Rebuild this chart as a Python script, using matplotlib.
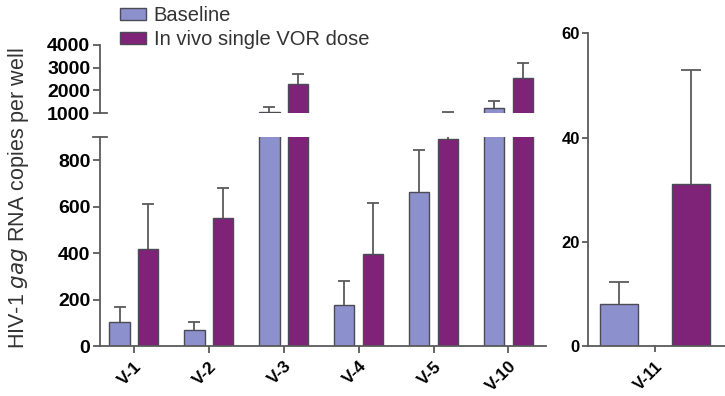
import numpy as np
import matplotlib
matplotlib.use("Agg")
import matplotlib.pyplot as plt
from matplotlib.patches import Patch

plt.rcParams['font.family'] = ['Liberation Sans', 'DejaVu Sans']

# data
donors = ['V-1', 'V-2', 'V-3', 'V-4', 'V-5', 'V-10']
baseline = [105, 70, 1050, 175, 665, 1220]
baseline_err = [65, 35, 220, 105, 180, 310]
vor = [420, 550, 2280, 395, 890, 2540]
vor_err = [190, 130, 440, 220, 160, 660]

v11_label = ['V-11']
v11_baseline = [8]
v11_baseline_err = [4.3]
v11_vor = [31]
v11_vor_err = [22]

c_base = '#8c90cc'
c_vor = '#7f2378'
edge = '#4b4b55'
err_col = '#5a5a5a'


def up_err(ax, xs, ys, errs, cap):
    # upper error bar only, no cap at the bar top
    eb = ax.errorbar(xs, ys, yerr=[np.zeros(len(xs)), errs], fmt='none',
                     ecolor=err_col, elinewidth=1.3, capsize=cap, capthick=1.3, zorder=1)
    eb.lines[1][0].set_visible(False)


fig = plt.figure(figsize=(7.25, 3.96), dpi=100)
ax_top = fig.add_axes([0.138, 0.7146, 0.615, 0.172])
ax_low = fig.add_axes([0.138, 0.126, 0.615, 0.528])
ax_r = fig.add_axes([0.811, 0.126, 0.189, 0.79])

x = np.arange(len(donors))
w = 0.27
off = 0.19
for ax in (ax_top, ax_low):
    ax.bar(x - off, baseline, w, color=c_base, edgecolor=edge, linewidth=1)
    ax.bar(x + off, vor, w, color=c_vor, edgecolor=edge, linewidth=1)
    up_err(ax, x - off, baseline, baseline_err, 4)
    up_err(ax, x + off, vor, vor_err, 4)
    ax.set_xlim(-0.45, 5.5)
    for s in ('top', 'right'):
        ax.spines[s].set_visible(False)
    ax.spines['left'].set_color(err_col)
    ax.spines['bottom'].set_color(err_col)
    ax.spines['left'].set_linewidth(1.3)
    ax.spines['bottom'].set_linewidth(1.3)
    ax.tick_params(axis='y', length=5, width=1.3, color=err_col, labelsize=14, pad=2)

ax_top.set_ylim(1000, 4000)
ax_top.set_yticks([1000, 2000, 3000, 4000])
ax_top.set_yticklabels(['1000', '2000', '3000', '4000'], fontweight='bold', fontsize=14)
ax_top.spines['bottom'].set_visible(False)
ax_top.set_xticks([])
ax_top.plot([0, 0.015], [0, 0], transform=ax_top.transAxes, color=err_col, lw=1.3, clip_on=False)

ax_low.set_ylim(0, 900)
ax_low.set_yticks([0, 200, 400, 600, 800])
ax_low.set_yticklabels(['0', '200', '400', '600', '800'], fontweight='bold', fontsize=14)
ax_low.set_xticks(x)
ax_low.set_xticklabels(donors, rotation=45, ha='right', rotation_mode='anchor',
                       fontweight='bold', fontsize=12.5)
ax_low.tick_params(axis='x', length=5, width=1.3, color=err_col, pad=4)
ax_low.plot([-0.015, 0.015], [1, 1], transform=ax_low.transAxes, color=err_col, lw=1.3, clip_on=False)

# right panel
xr = np.arange(1)
ax_r.bar(xr - 0.36, v11_baseline, 0.38, color=c_base, edgecolor=edge, linewidth=1)
ax_r.bar(xr + 0.36, v11_vor, 0.38, color=c_vor, edgecolor=edge, linewidth=1)
up_err(ax_r, xr - 0.36, v11_baseline, v11_baseline_err, 7)
up_err(ax_r, xr + 0.36, v11_vor, v11_vor_err, 7)
ax_r.set_xlim(-0.67, 0.70)
ax_r.set_ylim(0, 60)
ax_r.set_yticks([0, 20, 40, 60])
ax_r.set_yticklabels(['0', '20', '40', '60'], fontweight='bold', fontsize=12)
ax_r.set_xticks(xr)
ax_r.set_xticklabels(v11_label, rotation=45, ha='right', rotation_mode='anchor',
                     fontweight='bold', fontsize=12)
for s in ('top', 'right'):
    ax_r.spines[s].set_visible(False)
for s in ('left', 'bottom'):
    ax_r.spines[s].set_color(err_col)
    ax_r.spines[s].set_linewidth(1.3)
ax_r.tick_params(length=4, width=1.3, color=err_col, pad=2)
ax_r.tick_params(axis='x', pad=5)

fig.text(0.025, 0.5, 'HIV-1 $\\it{gag}$ RNA copies per well', rotation=90,
         ha='center', va='center', fontsize=15.5, color='#333333')

handles = [Patch(facecolor=c_base, edgecolor=edge), Patch(facecolor=c_vor, edgecolor=edge)]
fig.legend(handles, ['Baseline', 'In vivo single VOR dose'], loc='upper left',
           bbox_to_anchor=(0.14, 1.03), frameon=False, fontsize=14.5,
           handlelength=1.3, handleheight=0.55, handletextpad=0.4, labelspacing=0.25,
           labelcolor='#333333')

fig.savefig('out.png', dpi=100)
